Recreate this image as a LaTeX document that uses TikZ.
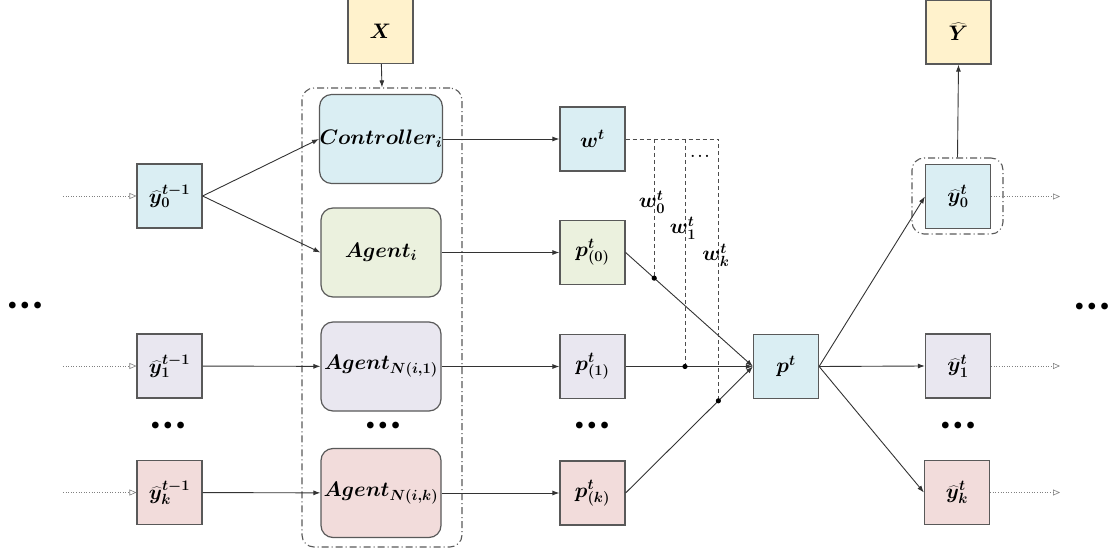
\RequirePackage{fix-cm}
\documentclass[tikz,border=0pt]{standalone}
\usepackage{bm}
\usetikzlibrary{arrows.meta,calc}
\definecolor{cblue}{HTML}{DAEEF3}
\definecolor{cgreen}{HTML}{EBF1DE}
\definecolor{cpurple}{HTML}{E9E7F0}
\definecolor{cpink}{HTML}{F2DCDB}
\definecolor{cyellow}{HTML}{FFF2CC}
\definecolor{boxgray}{HTML}{595959}
\begin{document}
\begin{tikzpicture}[x=1pt,y=-1pt,
  lbl/.style={font=\fontsize{21}{24}\selectfont},
  sq/.style={draw=boxgray, line width=1.2pt, minimum width=65pt, minimum height=64pt, inner sep=0pt, lbl},
  agent/.style={draw=boxgray, line width=1.2pt, rounded corners=12pt, minimum width=120pt, minimum height=89pt, inner sep=0pt, lbl},
  grpbox/.style={draw=boxgray, line width=1.1pt, rounded corners=12pt, dash pattern=on 7pt off 3pt on 1pt off 3pt, inner sep=0pt},
  arr/.style={-{Latex[length=7pt,width=5pt]}, line width=0.9pt, draw=black!80},
  inarr/.style={draw=gray, line width=0.6pt, dotted, -{Triangle[open,length=7pt,width=6pt]}},
  dl/.style={draw=black!70, line width=0.9pt, dash pattern=on 4pt off 3pt},
  jdot/.style={fill=black},
  ell/.style={font=\fontsize{30}{32}\selectfont, inner sep=0pt},
]
\newcommand{\mydots}{\textbullet\kern-9pt\textbullet\kern-9pt\textbullet}
\useasboundingbox (0,0) rectangle (1114,553);
% top input
\node[sq,fill=cyellow] (X) at (380.5,31.5) {$\bm{X}$};
% group container
\node[grpbox, minimum width=160pt, minimum height=459pt] (grp) at (382,317.5) {};
\draw[arr] (X) -- (grp.north);
% agents
\node[agent,fill=cblue] (C) at (381,139) {$\bm{Controller_i}$};
\node[agent,fill=cgreen] (A0) at (381,252.5) {$\bm{Agent_i}$};
\node[agent,fill=cpurple] (A1) at (381,366.5) {$\bm{Agent_{N(i,1)}}$};
\node[agent,fill=cpink] (Ak) at (381,493) {$\bm{Agent_{N(i,k)}}$};
\node[ell] (dA) at (383,428) {\mydots};
% left inputs
\node[sq,fill=cblue] (L0) at (169.5,196) {$\bm{\widehat{y}_0^{t-1}}$};
\node[sq,fill=cpurple] (L1) at (169.5,366) {$\bm{\widehat{y}_1^{t-1}}$};
\node[sq,fill=cpink] (Lk) at (169.5,492.5) {$\bm{\widehat{y}_k^{t-1}}$};
\node[ell] (dL) at (168,428) {\mydots};
\node[ell] (dLL) at (25,308) {\mydots};
\coordinate (i0) at (63,196);
\coordinate (i1) at (63,366);
\coordinate (ik) at (63,492.5);
\draw[inarr] (i0) -- (L0);
\draw[inarr] (i1) -- (L1);
\draw[inarr] (ik) -- (Lk);
\draw[arr] (L0.east) -- (C.west);
\draw[arr] (L0.east) -- (A0.west);
\draw[arr] (L1) -- (A1);
\draw[arr] (Lk) -- (Ak);
% middle
\node[sq,fill=cblue] (W) at (592.5,139) {$\bm{w^t}$};
\node[sq,fill=cgreen] (P0) at (592.5,252.5) {$\bm{p^t_{(0)}}$};
\node[sq,fill=cpurple] (P1) at (592.5,366.5) {$\bm{p^t_{(1)}}$};
\node[sq,fill=cpink] (Pk) at (592.5,493) {$\bm{p^t_{(k)}}$};
\node[ell] (dP) at (592,428) {\mydots};
\draw[arr] (C) -- (W);
\draw[arr] (A0) -- (P0);
\draw[arr] (A1) -- (P1);
\draw[arr] (Ak) -- (Pk);
\node[sq,fill=cblue] (Pt) at (786,366.5) {$\bm{p^t}$};
\draw[arr] (P0.east) -- (Pt.west);
\draw[arr] (P1.east) -- (Pt.west);
\draw[arr] (Pk.east) -- (Pt.west);
% weight taps
\coordinate (c0) at ($(P0.east)!0.2248!(Pt.west)$);
\coordinate (c1) at (685,366.5);
\coordinate (ck) at ($(Pk.east)!0.7287!(Pt.west)$);
\coordinate (tk) at (ck |- W.east);
\draw[dl] (W.east) -- (tk) -- (ck);
\draw[dl] (c0 |- W.east) -- (c0);
\draw[dl] (c1 |- W.east) -- (c1);
\fill[jdot] (c0) circle (2.6pt);
\fill[jdot] (c1) circle (2.6pt);
\fill[jdot] (ck) circle (2.6pt);
\node[lbl] (w0) at (652,202) {$\bm{w_0^t}$};
\node[lbl] (w1) at (683,228) {$\bm{w_1^t}$};
\node[lbl] (wk) at (716,255) {$\bm{w_k^t}$};
\node[font=\fontsize{14}{16}\selectfont] (wd) at (700,156) {$\bm{\dots}$};
% right outputs
\node[sq,fill=cyellow] (Yh) at (958.5,32) {$\bm{\widehat{Y}}$};
\node[sq,fill=cblue] (R0) at (958,196.5) {$\bm{\widehat{y}_0^{t}}$};
\node[grpbox, minimum width=91pt, minimum height=76pt] (g0) at (957.5,196) {};
\node[sq,fill=cpurple] (R1) at (958,366) {$\bm{\widehat{y}_1^{t}}$};
\node[sq,fill=cpink] (Rk) at (957,492.5) {$\bm{\widehat{y}_k^{t}}$};
\node[ell] (dR) at (958,428) {\mydots};
\node[ell] (dRR) at (1092,309) {\mydots};
\draw[arr] (g0.north) -- (Yh.south);
\draw[arr] (Pt.east) -- (R0.west);
\draw[arr] (Pt.east) -- (R1.west);
\draw[arr] (Pt.east) -- (Rk.west);
\coordinate (o0) at (1060,196.5);
\coordinate (o1) at (1060,366);
\coordinate (ok) at (1060,492.5);
\draw[inarr] (R0) -- (o0);
\draw[inarr] (R1) -- (o1);
\draw[inarr] (Rk) -- (ok);
\end{tikzpicture}
\end{document}
